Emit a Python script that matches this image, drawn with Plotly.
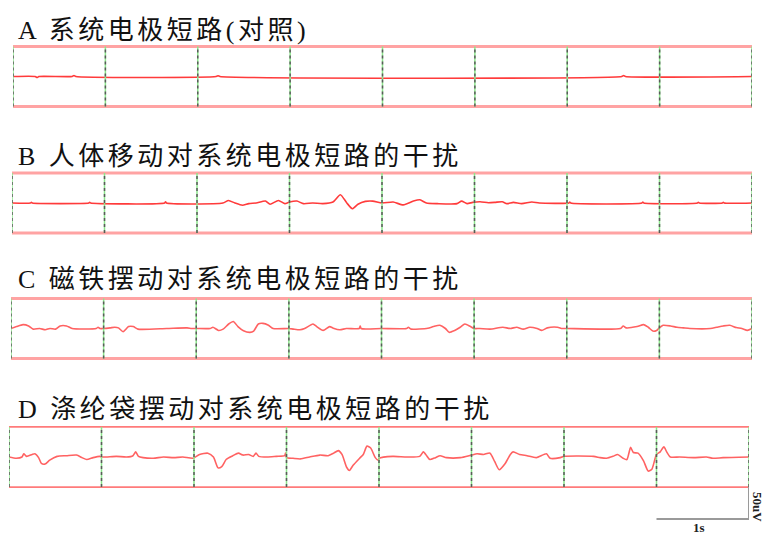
import plotly.graph_objects as go

# ---------------- data (seconds, microvolts) ----------------
titles = ["A 系统电极短路(对照)",
          "B 人体移动对系统电极短路的干扰",
          "C 磁铁摆动对系统电极短路的干扰",
          "D 涤纶袋摆动对系统电极短路的干扰"]

A_t = [0, 0.24, 0.26, 0.28, 0.64, 0.66, 0.68, 2.2, 2.22, 2.24, 6.59, 6.61, 6.63, 8]
A_v = [0, 0, -1.5, 0, 0, 1.5, 0, 0, 1.2, 0, 0, 1.5, 0, 0]

B_t = [0, 0.2, 0.21, 0.22, 0.83, 0.84, 0.85, 1.65, 1.66, 1.67, 2.28, 2.34, 2.41, 2.49,
       2.56, 2.64, 2.74, 2.79, 2.88, 2.95, 3.0, 3.08, 3.15, 3.25, 3.36, 3.47, 3.55,
       3.62, 3.68, 3.74, 3.82, 3.9, 4.0, 4.12, 4.23, 4.34, 4.41, 4.48, 4.6, 4.81,
       4.86, 4.92, 4.98, 5.06, 5.15, 5.22, 5.3, 5.35, 5.42, 5.51, 5.62, 5.7, 6.02,
       6.03, 6.04, 6.81, 6.82, 6.83, 7.41, 7.42, 7.43, 7.68, 7.69, 7.7, 8]
B_v = [0, 0, 1, 0, 0, 1, 0, 0, 2, 0, 0, 4, 0, -3.5,
       -1, 0, 3, -2, 4, -1, 1.5, 3, -1, 0, -1, 1.5, 13,
       0, -9, -2, 2.5, 3, 0, 1.5, -3, 3, 5, 0, -1, -1,
       3, -1, 1, 2, 0.5, 1, 2, -1, 1, -1, 1.5, 0, 0,
       1.5, 0, 0, 1.5, 0, 0, 1.2, 0, 0, 1.2, 0, 0]

C_t = [0, 0.06, 0.13, 0.19, 0.24, 0.31, 0.37, 0.42, 0.48, 0.53, 0.6, 0.66, 0.92, 0.94,
       0.96, 1.0, 1.07, 1.12, 1.16, 1.21, 1.27, 1.32, 1.37, 1.68, 1.9, 1.95, 2.0, 2.15,
       2.18, 2.24, 2.29, 2.35, 2.4, 2.45, 2.51, 2.58, 2.62, 2.67, 2.72, 2.78, 2.83, 3.0,
       3.05, 3.12, 3.17, 3.26, 3.3, 3.37, 3.44, 3.48, 3.55, 3.62, 3.76, 3.77, 3.78, 4.0,
       4.27, 4.29, 4.32, 4.5, 4.56, 4.63, 4.69, 4.73, 4.79, 4.85, 4.9, 4.96, 5.0, 5.06,
       5.17, 5.31, 5.39, 5.46, 5.53, 5.6, 5.68, 5.73, 5.79, 5.9, 5.95, 6.0, 6.58, 6.61,
       6.64, 6.76, 6.83, 6.88, 6.93, 6.97, 7.0, 7.04, 7.12, 7.19, 7.26, 7.33, 7.55, 7.62,
       7.69, 7.76, 7.83, 7.89, 7.95, 8.0]
C_v = [0, 3, 6, 4, -1, 0, -2, 0, -1, 4, 4, 0, 0, 2,
       0, 0, 1, 2, 1, -5, 3, 3, -1, 0, 1, 0, 0, 0,
       2, -3, -1, 7, 11, 3, -3.5, -6, -4, 7, 8, 5, 0, 0,
       -1, -2, 0, 7, 3, -3, 3, 0.5, -2, 0, 0, 4, 0, 0,
       0, 2, -1, 0.5, 3, 5, 0, -6, -3, 2, 7, 3, 0, 0,
       -1, 2, 0, 2, -1, 2, 0, -3, 1, 2, 0, 0, 0, 4,
       1, 3, 6, 2, -4, -3, 1, 5, 4, 2, 1, 0, 0, 2,
       4, 5, 1.5, 0, -3, 0]

D_t = [0, 0.08, 0.14, 0.16, 0.19, 0.25, 0.28, 0.32, 0.35, 0.39, 0.44, 0.52, 0.62, 0.73,
       0.79, 0.84, 0.91, 0.98, 1.0, 1.05, 1.16, 1.27, 1.34, 1.37, 1.4, 1.45, 1.56, 1.67,
       1.78, 1.88, 1.99, 2.06, 2.15, 2.21, 2.26, 2.3, 2.35, 2.42, 2.48, 2.53, 2.59, 2.64,
       2.67, 2.7, 2.79, 2.89, 2.98, 2.99, 3.0, 3.07, 3.15, 3.25, 3.36, 3.45, 3.51, 3.56,
       3.6, 3.65, 3.68, 3.72, 3.79, 3.83, 3.87, 3.91, 3.96, 3.99, 4.0, 4.15, 4.3, 4.44,
       4.48, 4.52, 4.55, 4.61, 4.66, 4.73, 4.88, 5.0, 5.06, 5.13, 5.2, 5.25, 5.3, 5.36,
       5.42, 5.45, 5.52, 5.6, 5.7, 5.81, 5.85, 5.96, 6.0, 6.32, 6.39, 6.46, 6.53, 6.58,
       6.64, 6.68, 6.72, 6.75, 6.8, 6.86, 6.91, 6.95, 7.0, 7.04, 7.08, 7.11, 7.15, 7.25,
       7.4, 7.54, 7.61, 7.72, 8.0]
D_v = [0, -2, 0, 5, 1, 4, 5, -1, -10, -11, -5, 1, 2, 3,
       -1, -4, -1, 1, 0, 0, 1, 0, 2, 8, 1, -1, -2, 0,
       -1, 0, -2, 4, 6, 0, -17, -15, -3.5, 2, 6, 3, 4, 1,
       6, 1, 0, 1, 2, 6, -1, -2, -3, 0, 3, 2, 6, 10,
       4, -16, -21, -13, -2, 4, 17, 14, -1, -5, -2, 1, 0, 1,
       8, 1, -4, -1, 2, -1, -1, 3, 5, 4, 6, -7, -20, -11,
       4, 8, 4, 2, -1, 5, -2, -1, 1, 1, -1, -2, 1, 4,
       -2, -4, 15, 7, 6, -6, -22, -19, 4, 8, 16, 8, 0, 0,
       -1, 0, -2, -1, 0]

limit_uV = 47          # upper / lower reference traces
seconds = list(range(0, 9))   # 1 s grid
scale_uV = 50
scale_s = 1

# ---------------- layout geometry (pixels) ----------------
W, H = 767, 534
panels = [
    dict(t=A_t, v=A_v, x0=13, x1=752, mid=76.5, title_y=30, below=40),
    dict(t=B_t, v=B_v, x0=12, x1=752, mid=203, title_y=156, below=40),
    dict(t=C_t, v=C_v, x0=11, x1=752, mid=328.5, title_y=279, below=40),
    dict(t=D_t, v=D_v, x0=9, x1=749, mid=457, title_y=409, below=72),
]
K = 50 / 32.0   # microvolts per pixel
ABOVE = 40

fig = go.Figure()
shapes = []
annotations = []
layout_axes = {}

for i, p in enumerate(panels):
    n = "" if i == 0 else str(i + 1)
    xa, ya = "x" + n, "y" + n
    layout_axes["xaxis" + n] = dict(domain=[p["x0"] / W, p["x1"] / W], range=[0, 8],
                                    visible=False, anchor=ya, fixedrange=True)
    layout_axes["yaxis" + n] = dict(domain=[1 - (p["mid"] + p["below"]) / H,
                                            1 - (p["mid"] - ABOVE) / H],
                                    range=[-p["below"] * K, ABOVE * K],
                                    visible=False, anchor=xa, fixedrange=True)
    edge_col = "#ff7b7b" if i == 3 else "#ffa3a3"
    edge_w = 1.6 if i == 3 else 3
    for lv in (limit_uV, -limit_uV):
        fig.add_trace(go.Scatter(x=[0, 8], y=[lv, lv], mode="lines", xaxis=xa, yaxis=ya,
                                 line=dict(color=edge_col, width=edge_w),
                                 hoverinfo="skip"))
    sig_col = "#ff3b3b" if i < 2 else "#ff6262"
    fig.add_trace(go.Scatter(x=p["t"], y=p["v"], mode="lines", xaxis=xa, yaxis=ya,
                             line=dict(color=sig_col, width=1.6, shape="spline",
                                       smoothing=0.6)))
    for s in seconds:
        shapes.append(dict(type="line", xref=xa, yref=ya, x0=s, x1=s,
                           y0=-limit_uV, y1=limit_uV, layer="above",
                           line=dict(color="#8ce68c", width=1.5)))
        shapes.append(dict(type="line", xref=xa, yref=ya, x0=s, x1=s,
                           y0=-limit_uV, y1=limit_uV, layer="above",
                           line=dict(color="#5a5a5a", width=1.5, dash="3px,3px")))
    annotations.append(dict(
        text='<span style="letter-spacing:3.5px">' + titles[i] + '</span>',
        xref="paper", yref="paper", x=16 / W, y=1 - p["title_y"] / H,
        xanchor="left", yanchor="middle", showarrow=False,
        font=dict(family="Liberation Serif, Noto Sans CJK SC", size=26, color="#111111")))

# scale bar in panel D coordinates
shapes.append(dict(type="line", xref="x4", yref="y4", x0=8 - scale_s, x1=8,
                   y0=-limit_uV - scale_uV, y1=-limit_uV - scale_uV,
                   line=dict(color="#9a9a9a", width=2)))
shapes.append(dict(type="line", xref="x4", yref="y4", x0=8, x1=8,
                   y0=-limit_uV, y1=-limit_uV - scale_uV,
                   line=dict(color="#9a9a9a", width=2)))
annotations.append(dict(text="<b>50uV</b>", xref="paper", yref="paper",
                        x=758 / W, y=1 - 507 / H, textangle=90, showarrow=False,
                        xanchor="center", yanchor="middle",
                        font=dict(family="Liberation Serif", size=13, color="#222222")))
annotations.append(dict(text="<b>1s</b>", xref="paper", yref="paper",
                        x=699 / W, y=1 - 527 / H, showarrow=False,
                        xanchor="center", yanchor="middle",
                        font=dict(family="Liberation Serif", size=13, color="#222222")))

fig.update_layout(width=W, height=H, margin=dict(l=0, r=0, t=0, b=0),
                  paper_bgcolor="white", plot_bgcolor="white", showlegend=False,
                  shapes=shapes, annotations=annotations, **layout_axes)

fig.write_html("out.html", config={"displayModeBar": False})
